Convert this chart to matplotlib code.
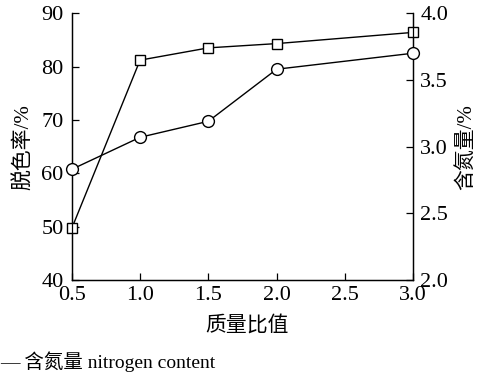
import matplotlib
matplotlib.use("Agg")
import matplotlib.pyplot as plt

ratio = [0.5, 1.0, 1.5, 2.0, 3.0]
decolor_rate = [49.7, 81.2, 83.5, 84.3, 86.4]
nitrogen = [2.83, 3.07, 3.19, 3.58, 3.70]

x_ticks = [0.5, 1.0, 1.5, 2.0, 2.5, 3.0]
x_ticklabels = ["0.5", "1.0", "1.5", "2.0", "2.5", "3.0"]
left_ticks = [40, 50, 60, 70, 80, 90]
right_ticks = [2.0, 2.5, 3.0, 3.5, 4.0]
right_ticklabels = ["2.0", "2.5", "3.0", "3.5", "4.0"]

fam = ['Liberation Serif', 'Noto Sans CJK SC']
plt.rcParams['font.family'] = fam
plt.rcParams['font.size'] = 14

fig = plt.figure(figsize=(4.85, 3.76), dpi=100)
ax = fig.add_axes([0.148, 0.255, 0.704, 0.71])
ax2 = ax.twinx()

ax.plot(ratio, decolor_rate, color='black', lw=1.0, marker='s', ms=7,
        mfc='white', mec='black', mew=1.0, clip_on=False, zorder=3)
ax2.plot(ratio, nitrogen, color='black', lw=1.0, marker='o', ms=8.5,
         mfc='white', mec='black', mew=1.0, clip_on=False, zorder=3)

ax.set_xlim(0.5, 3.0)
ax.set_ylim(40, 90)
ax2.set_ylim(2.0, 4.0)
ax.set_xticks(x_ticks)
ax.set_xticklabels(x_ticklabels)
ax.set_yticks(left_ticks)
ax2.set_yticks(right_ticks)
ax2.set_yticklabels(right_ticklabels)

for a in (ax, ax2):
    a.spines['top'].set_visible(False)
    for s in a.spines.values():
        s.set_linewidth(0.9)
    a.tick_params(direction='in', length=5, width=0.9, labelsize=16, pad=5)
ax.tick_params(axis='x', pad=4)
ax.tick_params(axis='y', pad=6)

ax.set_ylabel('脱色率/%', fontsize=15)
ax2.set_ylabel('含氮量/%', fontsize=15, rotation=90)
ax.set_xlabel('质量比值', fontsize=15)
ax.yaxis.set_label_coords(-0.11, 0.5)
ax2.yaxis.set_label_coords(1.127, 0.5)
ax.xaxis.set_label_coords(0.512, -0.135)

fig.text(0.0, 1 - 362 / 376, '— 含氮量 nitrogen content', fontsize=14, ha='left', va='center')

fig.savefig('out.png', dpi=100)
